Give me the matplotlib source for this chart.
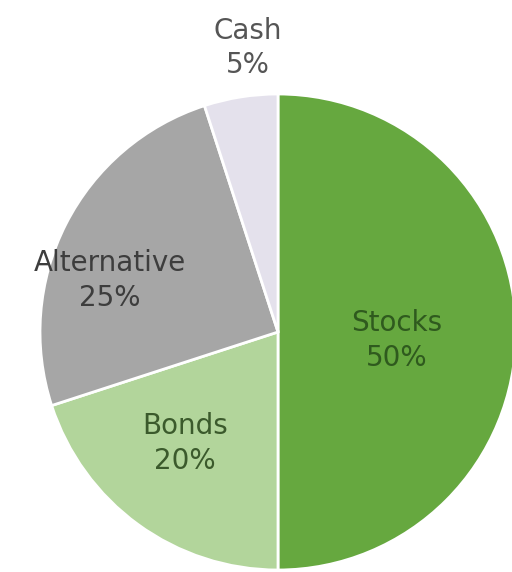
import numpy as np
import matplotlib.pyplot as plt

labels = ["Stocks", "Bonds", "Alternative", "Cash"]
shares = [50, 20, 25, 5]
colors = ["#66a83f", "#b2d59b", "#a6a6a6", "#e4e1ec"]
text_colors = ["#2f5a1e", "#3b5a2c", "#3d3d3d", "#555555"]

fig = plt.figure(figsize=(5.12, 5.72), dpi=100)
ax = fig.add_axes([0, 0, 1, 1])

cx, cy, r = 278, 240, 238
wedges, _ = ax.pie(shares, colors=colors, startangle=90, counterclock=False,
                   center=(cx, cy), radius=r, frame=True,
                   wedgeprops=dict(edgecolor="white", linewidth=2))
ax.set_xlim(0, 512)
ax.set_ylim(0, 572)
ax.axis("off")

# label placement (fraction of radius, angle in degrees)
place = [(0.50, -4), (0.61, -130), (0.74, 163), (1.2, 96)]
for lab, val, tc, (f, a) in zip(labels, shares, text_colors, place):
    x = cx + r * f * np.cos(np.radians(a))
    y = cy + r * f * np.sin(np.radians(a))
    ax.text(x, y, f"{lab}\n{val}%", ha="center", va="center", fontsize=20,
            color=tc, family="DejaVu Sans", linespacing=1.3)

fig.savefig("out.png", dpi=100)
